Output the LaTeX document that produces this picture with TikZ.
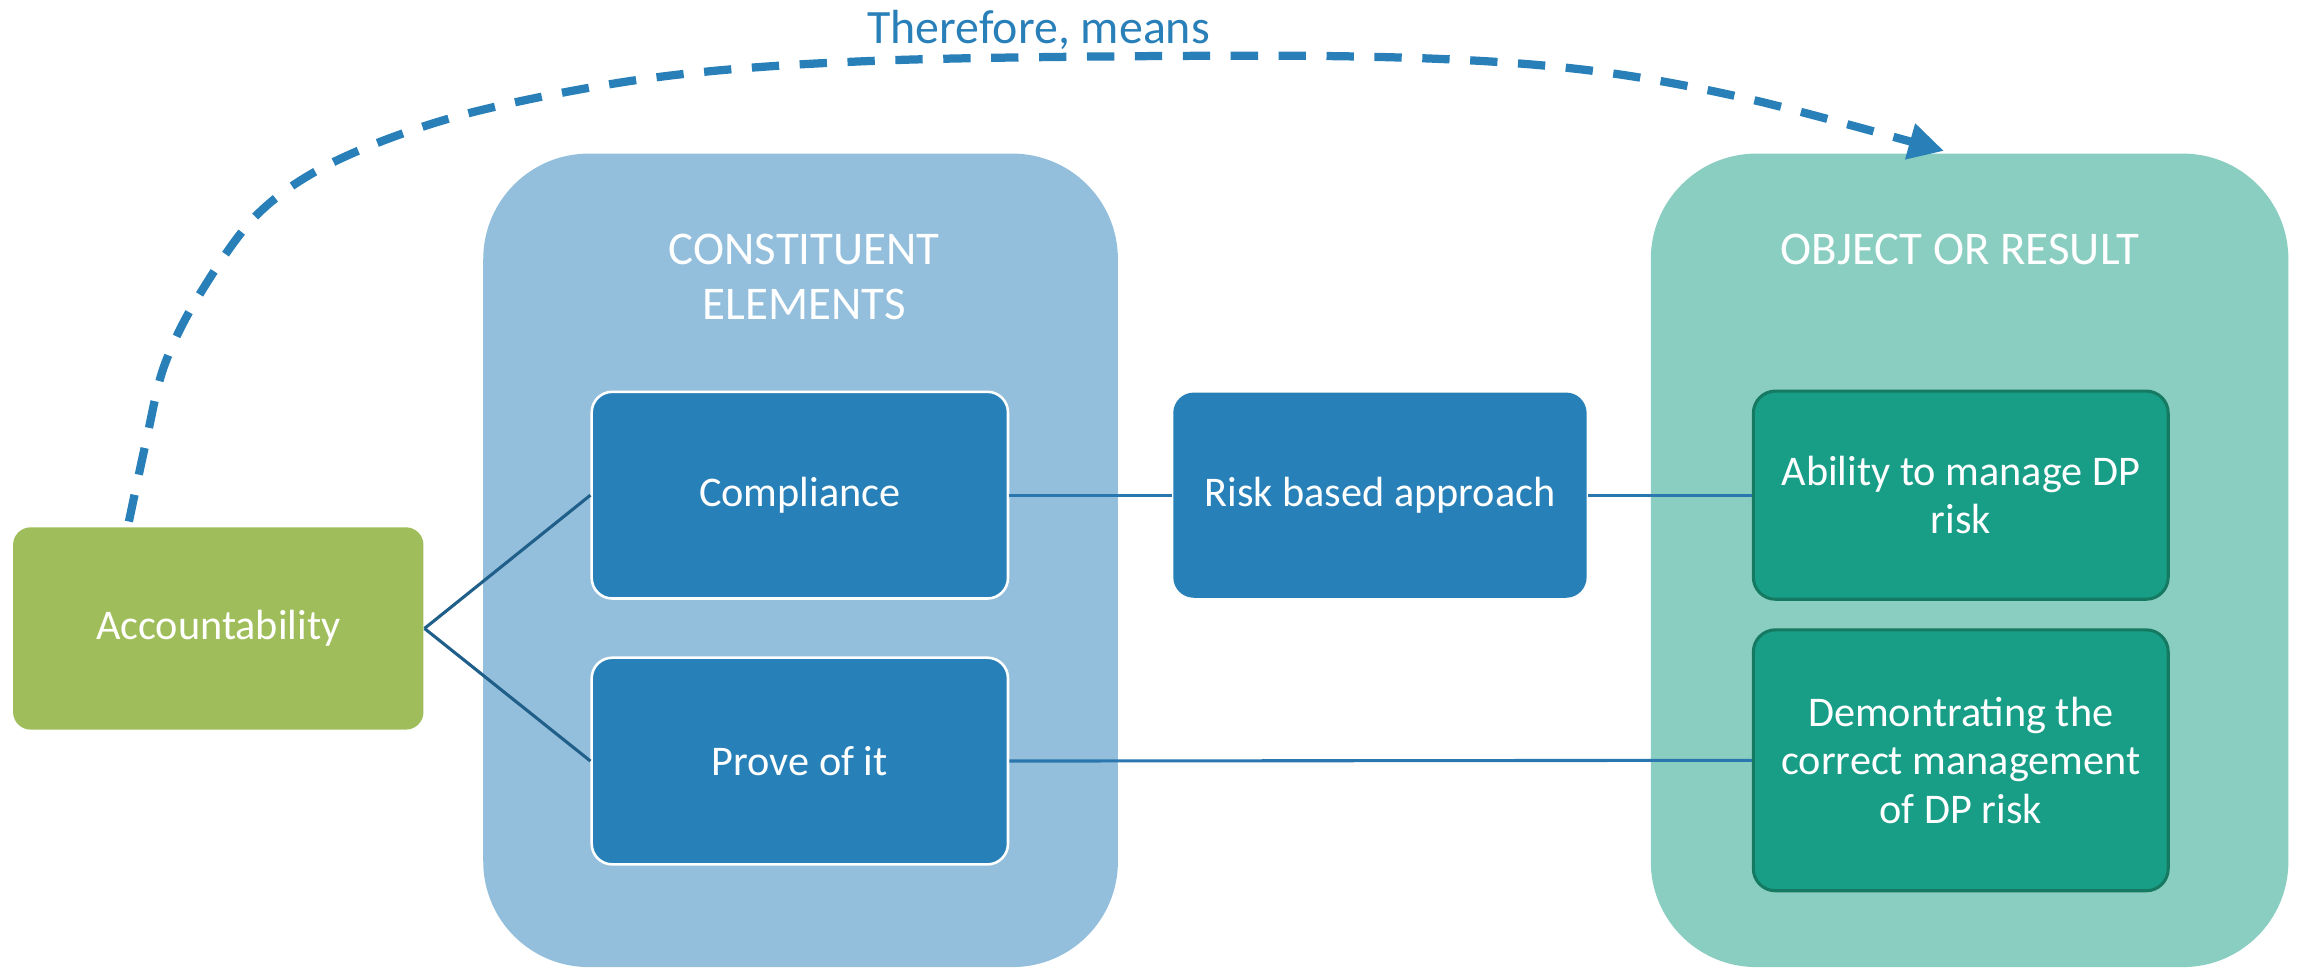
\documentclass[tikz,border=0pt]{standalone}
\usepackage{fontspec}
\setmainfont{Carlito}
\usetikzlibrary{arrows.meta}
\definecolor{accgreen}{HTML}{9FBE5B}
\definecolor{consbg}{HTML}{93BFDC}
\definecolor{bluebox}{HTML}{2880B8}
\definecolor{objbg}{HTML}{8ACEC1}
\definecolor{tealbox}{HTML}{189E87}
\definecolor{tealedge}{HTML}{167A63}
\definecolor{dashblue}{HTML}{2980B9}
\definecolor{diagline}{HTML}{205F8A}
\definecolor{hline}{HTML}{2A77AF}
\begin{document}
\begin{tikzpicture}[x=0.01cm,y=-0.01cm,
  bigbg/.style={rectangle, rounded corners=0.72cm, inner sep=0pt, draw=none,
    minimum width=#1},
  boxtext/.style={text=white, align=center, font=\fontsize{8.2}{9.4}\selectfont},
  titletext/.style={text=white, align=center, font=\fontsize{9.1}{10.8}\selectfont},
  accbox/.style={rectangle, rounded corners=0.12cm, inner sep=0pt, fill=accgreen,
    minimum width=2.80cm, minimum height=1.38cm, boxtext},
  bluecard/.style={rectangle, rounded corners=0.14cm, inner sep=0pt, fill=bluebox,
    draw=white, line width=0.5pt, minimum width=2.84cm, minimum height=1.41cm, boxtext},
  riskcard/.style={rectangle, rounded corners=0.14cm, inner sep=0pt, fill=bluebox,
    minimum width=2.82cm, minimum height=1.40cm, boxtext},
  tealcard/.style={rectangle, rounded corners=0.15cm, inner sep=0pt, fill=tealbox,
    draw=tealedge, line width=0.6pt, minimum width=2.83cm, boxtext},
  diaglink/.style={draw=diagline, line width=0.6pt},
  hlink/.style={draw=hline, line width=0.6pt},
  dasharrow/.style={draw=dashblue, line width=1.6pt, dash pattern=on 5.3pt off 4pt,
    -{Triangle[length=0.24cm,width=0.24cm]}}
]
\useasboundingbox (0,0) rectangle (1568,662.15);

% background panels
\node[bigbg=4.33cm, minimum height=5.55cm, fill=consbg] (consbg) at (546.5,382.5) {};
\node[bigbg=4.35cm, minimum height=5.55cm, fill=objbg] (objbg) at (1344.5,382.5) {};

% panel titles
\node[titletext] (constitle) at (549,189) {CONSTITUENT\\ELEMENTS};
\node[titletext] (objtitle) at (1338,170) {OBJECT OR RESULT};

% boxes
\node[accbox] (acc) at (149,429) {Accountability};
\node[bluecard] (comp) at (546,338) {Compliance};
\node[bluecard] (prove) at (546,519.5) {Prove of it};
\node[riskcard] (risk) at (942,338) {Risk based approach};
\node[tealcard, minimum height=1.42cm] (abil) at (1338.5,338) {Ability to manage DP\\risk};
\node[tealcard, minimum height=1.78cm] (demo) at (1338.5,519) {Demontrating the\\correct management\\of DP risk};

% connectors
\draw[diaglink] (acc.east) -- (comp.west);
\draw[diaglink] (acc.east) -- (prove.west);
\draw[hlink] (comp.east) -- (risk.west);
\draw[hlink] (risk.east) -- (abil.west);
\draw[hlink] (prove.east) -- (demo.west);

% dashed arrow
\coordinate (astart) at (88,356);
\coordinate (atip) at (1327,103);
\draw[dasharrow] plot[smooth, tension=0.55] coordinates {(astart) (100,300) (112,250) (135,203) (176,146) (231,109) (321,77) (454,52) (611,41) (860,38) (1000,41) (1100,50) (1200,69) (atip)};

\node[anchor=base, text=dashblue, font=\fontsize{9.3}{11}\selectfont] (therefore) at (709,29.4) {Therefore, means};
\end{tikzpicture}
\end{document}
